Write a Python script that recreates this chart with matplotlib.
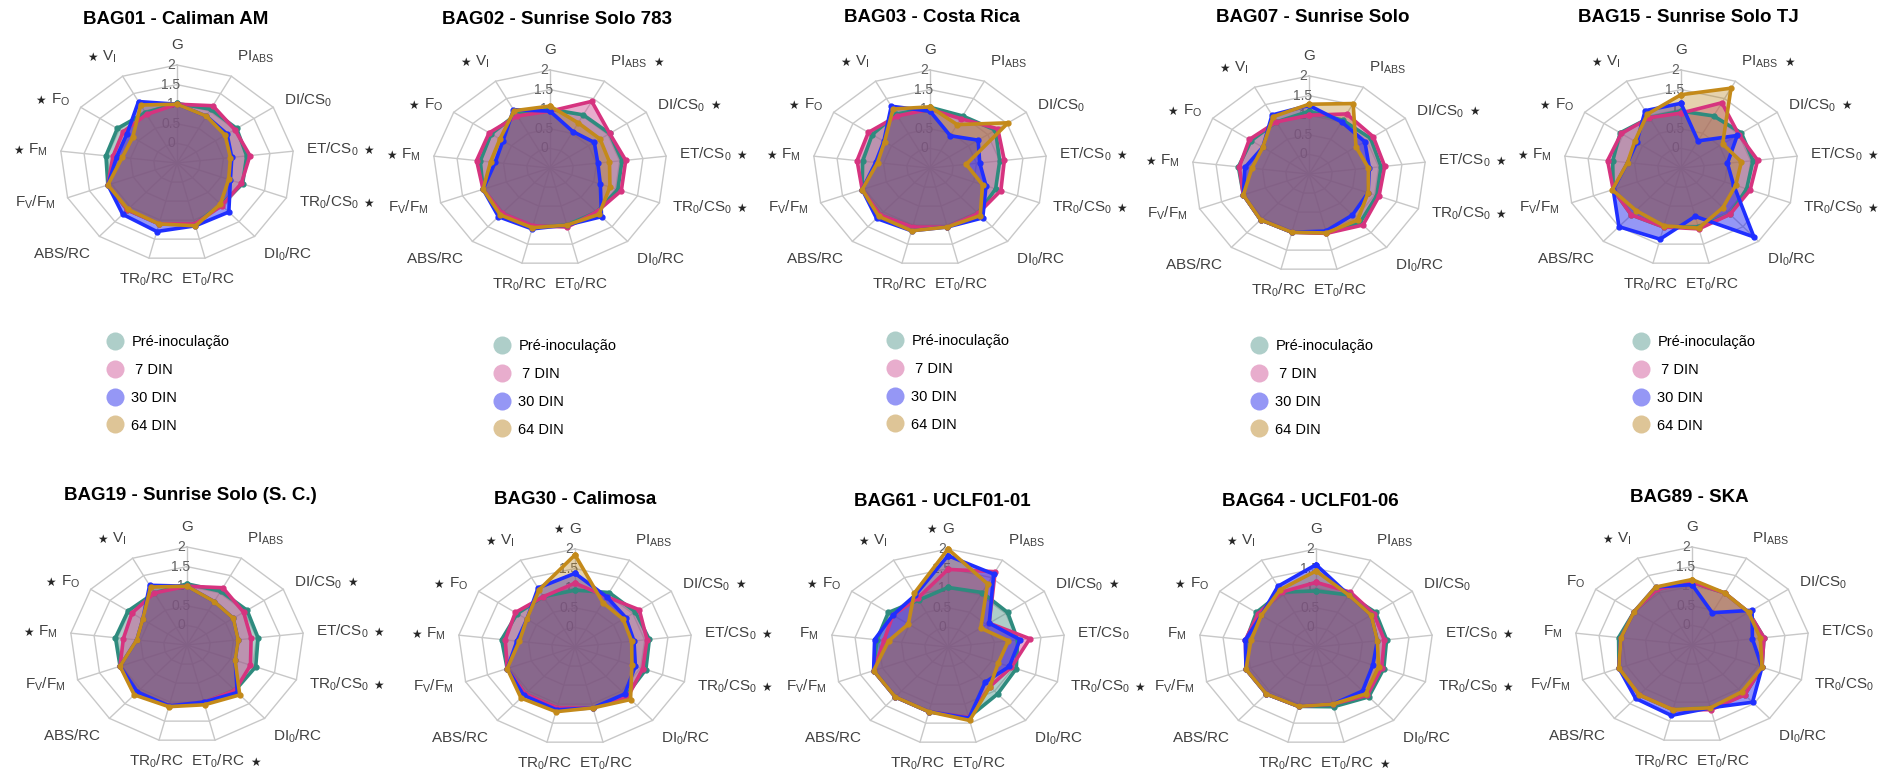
import numpy as np
import matplotlib

matplotlib.use("Agg")
import matplotlib.pyplot as plt  # noqa: E402
from matplotlib.lines import Line2D  # noqa: E402

plt.rcParams["font.family"] = ["Liberation Sans", "DejaVu Sans"]
plt.rcParams["mathtext.fontset"] = "custom"
plt.rcParams["mathtext.rm"] = "Liberation Sans"
plt.rcParams["mathtext.it"] = "Liberation Sans:italic"
plt.rcParams["mathtext.bf"] = "Liberation Sans:bold"

# axis order, clockwise from the top
AXES = ["G", "PI_{ABS}", "DI/CS_0", "ET/CS_0", "TR_0/CS_0", "DI_0/RC", "ET_0/RC",
        "TR_0/RC", "ABS/RC", "F_V/F_M", "F_M", "F_O", "V_I"]
SERIES = ["Pré-inoculação", " 7 DIN", "30 DIN", "64 DIN"]
LINE_COLORS = ["#2e8b7e", "#d6337f", "#1f2fff", "#c48a1a"]
FILL_COLORS = ["#4d9389", "#cd4b91", "#1519eb", "#b77f19"]
FILL_ALPHA = [0.45, 0.45, 0.45, 0.35]

TITLES = ["BAG01 - Caliman AM", "BAG02 - Sunrise Solo 783", "BAG03 - Costa Rica",
          "BAG07 - Sunrise Solo", "BAG15 - Sunrise Solo TJ",
          "BAG19 - Sunrise Solo (S. C.)", "BAG30 - Calimosa", "BAG61 - UCLF01-01",
          "BAG64 - UCLF01-06", "BAG89 - SKA"]

# indices of axes flagged as significant in each genotype
STARS = [
    {3, 4, 10, 11, 12},
    {1, 2, 3, 4, 10, 11, 12},
    {3, 4, 10, 11, 12},
    {2, 3, 4, 10, 11, 12},
    {1, 2, 3, 4, 10, 11, 12},
    {2, 3, 4, 6, 10, 11, 12},
    {0, 2, 3, 4, 10, 11, 12},
    {0, 2, 4, 11, 12},
    {3, 4, 6, 11, 12},
    {12},
]

# rows: Pré-inoculação, 7 DIN, 30 DIN, 64 DIN
BAG01 = [[1.02, 1.05, 1.05, 1.00, 1.00, 0.92, 1.10, 1.10, 1.10, 1.08, 1.03, 1.05, 0.95],
         [1.00, 1.15, 1.00, 1.07, 0.97, 0.95, 1.10, 1.10, 1.10, 1.08, 0.88, 0.90, 0.90],
         [1.00, 0.85, 0.80, 0.68, 0.72, 1.17, 1.15, 1.30, 1.25, 1.08, 0.80, 0.80, 1.27],
         [1.00, 0.85, 0.75, 0.65, 0.68, 0.90, 1.15, 1.10, 1.08, 1.08, 0.68, 0.65, 1.17]]
BAG02 = [[1.00, 1.03, 1.05, 1.05, 1.05, 1.00, 1.00, 1.05, 1.10, 1.03, 1.00, 1.03, 1.05],
         [0.95, 1.42, 1.05, 1.13, 1.13, 1.00, 1.05, 1.02, 1.05, 1.03, 1.08, 1.08, 1.00],
         [0.95, 0.55, 0.65, 0.53, 0.65, 1.16, 1.00, 1.10, 1.16, 1.03, 0.68, 0.72, 1.18],
         [1.08, 0.80, 0.80, 0.78, 0.87, 1.08, 1.00, 1.07, 1.10, 1.03, 0.78, 0.80, 1.15]]
BAG03 = [[1.05, 1.00, 1.20, 1.00, 1.00, 1.05, 1.05, 1.05, 1.10, 1.05, 0.95, 1.00, 1.05],
         [1.00, 0.92, 1.26, 1.10, 1.12, 1.05, 1.05, 1.05, 1.10, 1.05, 1.07, 1.10, 1.00],
         [0.95, 0.43, 0.75, 0.57, 0.78, 1.20, 1.05, 1.15, 1.22, 1.05, 0.67, 0.70, 1.28],
         [1.06, 0.75, 1.53, 0.28, 0.70, 1.12, 1.05, 1.15, 1.15, 1.05, 0.63, 0.68, 1.20]]
BAG07 = [[1.10, 1.05, 1.10, 1.05, 1.05, 1.15, 1.05, 1.03, 1.06, 1.00, 1.02, 1.00, 1.00],
         [1.00, 1.23, 1.17, 1.13, 1.10, 1.24, 1.06, 1.03, 1.06, 1.00, 1.00, 1.05, 1.00],
         [1.25, 1.00, 0.95, 0.80, 0.85, 0.90, 1.00, 1.03, 1.06, 1.00, 0.88, 0.70, 1.20],
         [1.28, 1.53, 0.72, 0.78, 0.85, 1.07, 1.05, 1.03, 1.06, 1.00, 0.73, 0.70, 1.15]]
BAG15 = [[0.95, 1.00, 1.07, 1.05, 1.00, 1.08, 1.05, 1.05, 1.10, 1.05, 0.97, 1.08, 0.95],
         [0.90, 1.38, 1.00, 1.15, 1.08, 1.08, 1.10, 1.05, 1.10, 1.05, 1.08, 1.05, 0.95],
         [1.15, 0.28, 0.96, 0.50, 0.70, 1.85, 0.77, 1.37, 1.50, 1.05, 0.65, 0.65, 1.15],
         [1.37, 1.80, 0.58, 0.80, 0.75, 0.85, 1.08, 1.02, 0.95, 1.07, 0.65, 0.70, 1.05]]
BAG19 = [[1.06, 1.05, 1.06, 1.03, 1.07, 1.05, 1.00, 1.10, 1.10, 1.03, 1.04, 1.03, 1.00],
         [1.00, 1.15, 0.97, 0.88, 0.95, 1.05, 1.00, 1.10, 1.10, 1.03, 0.87, 0.93, 1.00],
         [1.00, 0.75, 0.70, 0.60, 0.60, 1.12, 1.00, 1.10, 1.10, 1.03, 0.58, 0.65, 1.22],
         [1.00, 0.75, 0.70, 0.60, 0.60, 1.20, 1.07, 1.12, 1.20, 1.03, 0.58, 0.65, 1.17]]
BAG30 = [[0.95, 1.07, 1.07, 1.10, 1.12, 1.15, 1.10, 1.10, 1.10, 1.05, 1.08, 1.00, 0.95],
         [1.13, 0.95, 1.17, 1.05, 1.05, 1.20, 1.10, 1.10, 1.10, 1.05, 1.00, 1.05, 0.95],
         [1.38, 0.95, 0.82, 0.77, 0.88, 1.10, 1.10, 1.15, 1.15, 1.05, 0.75, 0.75, 1.20],
         [1.85, 0.78, 0.75, 0.72, 0.80, 1.29, 1.10, 1.20, 1.24, 1.05, 0.70, 0.75, 1.15]]
BAG61 = [[1.02, 1.07, 1.05, 1.00, 1.06, 1.10, 1.35, 1.20, 1.20, 1.20, 1.03, 1.05, 0.85],
         [1.48, 1.67, 0.57, 1.26, 0.95, 0.85, 1.35, 1.20, 1.20, 1.20, 0.88, 0.93, 0.90],
         [1.83, 1.60, 0.57, 1.05, 0.90, 0.70, 1.37, 1.20, 1.20, 1.20, 1.08, 0.93, 1.00],
         [2.00, 1.32, 0.35, 0.80, 0.65, 0.85, 1.43, 1.20, 1.20, 1.20, 0.78, 0.53, 1.05]]
BAG64 = [[0.93, 1.00, 1.05, 1.02, 1.05, 1.20, 1.07, 1.06, 1.10, 1.10, 1.00, 1.05, 1.08],
         [1.15, 1.08, 1.00, 0.97, 1.00, 1.15, 1.00, 1.06, 1.10, 1.10, 1.02, 1.00, 1.08],
         [1.60, 1.00, 0.93, 0.82, 0.80, 1.00, 1.00, 1.06, 1.10, 1.10, 1.02, 0.92, 1.25],
         [1.44, 1.00, 0.93, 0.82, 0.93, 1.10, 1.00, 1.06, 1.10, 1.10, 0.90, 0.92, 1.15]]
BAG89 = [[1.10, 1.00, 0.97, 1.05, 1.10, 1.20, 1.15, 1.20, 1.20, 1.17, 1.08, 1.00, 1.10],
         [1.10, 1.00, 0.97, 1.05, 1.10, 1.20, 1.20, 1.20, 1.20, 1.17, 1.03, 1.00, 1.10],
         [1.04, 0.43, 1.06, 0.80, 1.10, 1.45, 1.15, 1.35, 1.32, 1.17, 1.03, 1.00, 1.17],
         [1.17, 1.00, 0.97, 0.97, 1.10, 1.10, 1.15, 1.20, 1.20, 1.17, 1.03, 1.00, 1.17]]
PANELS = [BAG01, BAG02, BAG03, BAG07, BAG15, BAG19, BAG30, BAG61, BAG64, BAG89]

RINGS = [0, 0.5, 1, 1.5, 2]
RING_LABELS = ["0", "0.5", "1", "1.5", "2"]

W, H = 1892, 771
RX, RY = 117, 98
CENTERS = [(177, 163), (550, 168), (930, 168), (1309, 174), (1681, 168),
           (187, 645), (575, 647), (948, 647), (1316, 647), (1692, 645)]
TITLE_POS = [(176, 20), (557, 20), (932, 18), (1313, 18), (1688, 18),
             (190, 495), (575, 500), (942, 502), (1310, 502), (1689, 497)]
LEGEND_POS = [(108, 335), (495, 339), (888, 334), (1252, 339), (1634, 335)]

n = len(AXES)
theta = np.arange(n) * 2 * np.pi / n
theta_c = np.append(theta, theta[0])


def radar(idx, data):
    cx, cy = CENTERS[idx]
    ax = fig.add_axes([(cx - RX) / W, 1 - (cy + RY) / H, 2 * RX / W, 2 * RY / H],
                      projection="polar")
    ax.set_aspect("auto")
    ax.set_theta_zero_location("N")
    ax.set_theta_direction(-1)
    ax.set_ylim(-0.5, 2)
    ax.set_xticks([])
    ax.set_yticks([])
    ax.grid(False)
    ax.spines["polar"].set_visible(False)
    ax.patch.set_alpha(0)

    grid_kw = dict(color="#c8c8c8", lw=1.0, zorder=0.5, clip_on=False)
    for lev in RINGS:
        ax.plot(theta_c, np.full(n + 1, lev), **grid_kw)
    for t in theta:
        ax.plot([t, t], [-0.5, 2], **grid_kw)
    for lev, lab in zip(RINGS, RING_LABELS):
        ax.annotate(lab, (0, lev), xytext=(-6, 0), textcoords="offset pixels",
                    ha="center", va="center", fontsize=10, color="#606060",
                    zorder=0.8, annotation_clip=False)

    for vals, lc, fc, fa in zip(data, LINE_COLORS, FILL_COLORS, FILL_ALPHA):
        v = np.append(vals, vals[0])
        ax.fill(theta_c, v, color=fc, alpha=fa, lw=0, zorder=1, clip_on=False)
        ax.plot(theta_c, v, color=lc, lw=2.6, marker="o", ms=3.5,
                zorder=2, clip_on=False)

    for i, t in enumerate(theta):
        sx, cy_ = np.sin(t), np.cos(t)
        ha = "left" if sx > 0.3 else ("right" if sx < -0.3 else "center")
        va = "bottom" if cy_ > 0.6 else ("top" if cy_ < -0.6 else "center")
        pad = 13
        lab = ax.annotate(r"$\mathrm{%s}$" % AXES[i], (t, 2),
                          xytext=(pad * sx, pad * cy_), textcoords="offset pixels",
                          ha=ha, va=va, fontsize=11, color="#404040",
                          annotation_clip=False)
        if i in STARS[idx]:
            # star sits before the name on the left half, after it on the right
            left = i == 0 or i >= 7
            ax.annotate("★", xy=(0 if left else 1, 0.45), xycoords=lab,
                        xytext=(-5 if left else 5, 0), textcoords="offset pixels",
                        ha="right" if left else "left", va="center",
                        fontsize=8.5, color="#262626", family="DejaVu Sans")

    tx, ty = TITLE_POS[idx]
    fig.text(tx / W, 1 - ty / H, TITLES[idx], ha="center", va="center",
             fontsize=13.5, fontweight="bold")


fig = plt.figure(figsize=(W / 100, H / 100), dpi=100)
for k, data in enumerate(PANELS):
    radar(k, data)

handles = [Line2D([0], [0], marker="o", ls="none", markersize=13,
                  markerfacecolor=c, markeredgecolor="none", alpha=0.45)
           for c in FILL_COLORS]
for lx, ly in LEGEND_POS:
    fig.legend(handles, SERIES, loc="upper left",
               bbox_to_anchor=(lx / W, 1 - ly / H), frameon=False, fontsize=10.5,
               handlelength=1.0, handletextpad=0.6, labelspacing=0.95,
               borderaxespad=0, borderpad=0)

fig.savefig("out.png", dpi=100, facecolor="white")
